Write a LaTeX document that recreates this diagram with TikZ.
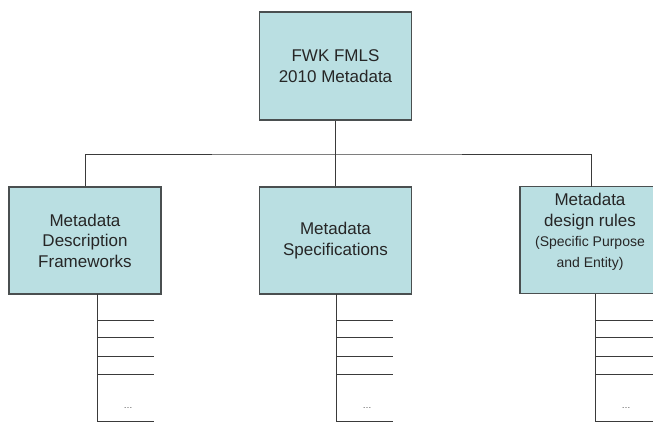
\documentclass[tikz,border=0pt]{standalone}
\usepackage{fontspec}
\setmainfont{Liberation Sans}
\definecolor{boxfill}{HTML}{BADFE2}
\definecolor{boxline}{HTML}{4A4F50}
\definecolor{conn}{HTML}{3A3A3A}
\begin{document}
\begin{tikzpicture}[x=1pt,y=-1pt,
  unit/.style={draw=boxline, line width=1.2pt, fill=boxfill, minimum width=152pt,
    minimum height=107pt, align=center, inner sep=2pt,
    font=\fontsize{17}{20.5}\selectfont, text=black!85},
  wire/.style={draw=conn, line width=0.9pt},
  small/.style={font=\fontsize{14}{20}\selectfont}]
\useasboundingbox (0,0) rectangle (653,423);
\fill[white] (0,0) rectangle (653,423);
\clip (0,0) rectangle (653,423);

\node[unit, minimum height=108pt] (top) at (335.5,66) {FWK FMLS\\2010 Metadata};
\node[unit] (left) at (85,240.5) {Metadata\\Description\\Frameworks};
\node[unit] (mid) at (335.5,240.5) {Metadata\\Specifications};
\node[unit, minimum width=150pt, text depth=0pt] (right) at (595,240) {};
\node[font=\fontsize{17}{20.5}\selectfont, text=black!85, align=center] (righttext) at (590,232)
  {Metadata\\design rules\\{\fontsize{14}{20}\selectfont(Specific Purpose}\\{\fontsize{14}{20}\selectfont and Entity)}};

\coordinate (bus) at (335.5,154);
\draw[wire] (top.south) -- (mid.north);
\draw[wire] (left.north) |- (bus) -| (591,187);

% sub-lists
\coordinate (ls) at (97,294);
\coordinate (ms) at (336,294);
\coordinate (rs) at (595,294);
\foreach \s/\len in {ls/57, ms/57, rs/60}{
  \draw[wire] (\s) -- ++(0,128);
  \foreach \dy in {26,43,62,80,127}{
    \draw[wire] (\s) ++(0,\dy) -- ++(\len,0);
  }
  \node[font=\fontsize{9}{9}\selectfont, text=black!70] at ([shift={(31,114)}]\s) {\dots};
}
\end{tikzpicture}
\end{document}
